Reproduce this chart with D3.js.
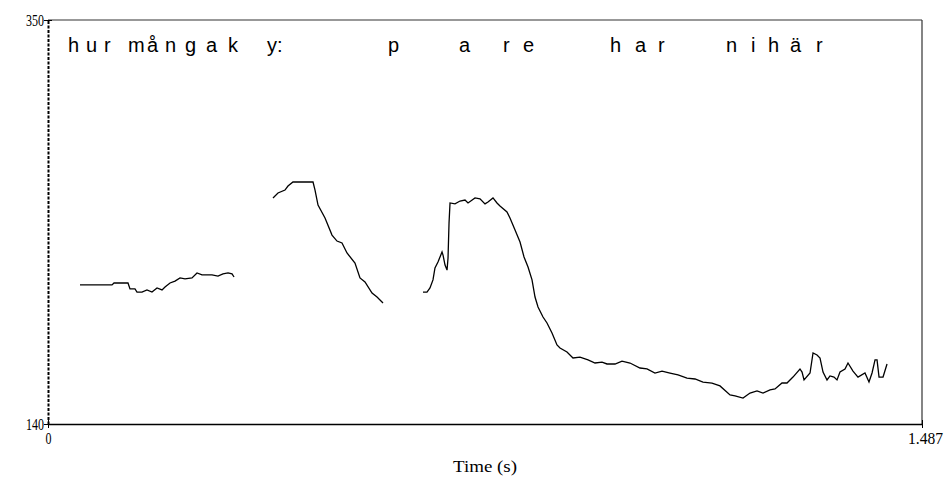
<!DOCTYPE html>
<html>

<head>
  <meta charset="utf-8">
  <title>Pitch contour</title>
  <script src="https://cdn.jsdelivr.net/npm/d3@7"></script>
  <style>
    body {
      margin: 0;
      background: #fff;
    }

    .tick text,
    .axis-title {
      font-family: "Liberation Serif", "DejaVu Serif", serif;
      fill: #000;
    }

    .seg-label {
      font-family: "Liberation Sans", Arial, sans-serif;
      font-size: 20px;
      fill: #000;
    }

    .contour {
      fill: none;
      stroke: #000;
      stroke-width: 1.3;
    }
  </style>
</head>

<body>
  <svg id="chart" width="946" height="477"></svg>

  <script>
    // pitch contour, [time (s), F0 (Hz)], three voiced stretches
    var segment1 = [
      [0.0544, 212.3], [0.1089, 212.3], [0.1123, 213.3], [0.1361, 213.3], [0.1395, 210.2],
      [0.1480, 210.2], [0.1514, 208.6], [0.1599, 208.6], [0.1684, 209.7], [0.1769, 208.6],
      [0.1855, 210.7], [0.1940, 209.7], [0.1991, 211.2], [0.2076, 213.3], [0.2161, 214.3],
      [0.2246, 215.9], [0.2331, 215.4], [0.2450, 215.9], [0.2535, 218.5], [0.2620, 217.5],
      [0.2790, 217.5], [0.2892, 216.9], [0.2977, 218.0], [0.3063, 218.5], [0.3131, 218.0],
      [0.3165, 216.4]
    ];

    var segment2 = [
      [0.3828, 257.5], [0.3913, 260.1], [0.4032, 261.6], [0.4083, 263.7], [0.4168, 265.8],
      [0.4509, 265.8], [0.4543, 261.6], [0.4594, 253.8], [0.4713, 247.1], [0.4832, 238.2],
      [0.4917, 235.1], [0.5002, 234.1], [0.5087, 228.9], [0.5223, 223.7], [0.5308, 215.9],
      [0.5393, 213.8], [0.5513, 208.1], [0.5598, 206.0], [0.5683, 203.4], [0.5700, 202.9]
    ];

    var segment3 = [
      [0.6380, 208.6], [0.6448, 208.6], [0.6499, 210.7], [0.6550, 214.9], [0.6584, 221.1],
      [0.6635, 224.2], [0.6704, 229.4], [0.6721, 227.8], [0.6755, 222.6], [0.6789, 220.0],
      [0.6806, 226.3], [0.6823, 244.5], [0.6840, 254.9], [0.6925, 254.4], [0.7010, 255.9],
      [0.7095, 256.4], [0.7146, 254.9], [0.7265, 257.5], [0.7350, 257.0], [0.7435, 254.4],
      [0.7486, 255.4], [0.7571, 257.5], [0.7639, 254.9], [0.7690, 253.3], [0.7809, 250.2],
      [0.7860, 247.1], [0.7946, 240.8], [0.8031, 234.6], [0.8099, 226.8], [0.8167, 221.6],
      [0.8235, 214.9], [0.8286, 206.0], [0.8337, 200.8], [0.8422, 195.6], [0.8490, 192.5],
      [0.8575, 187.3], [0.8660, 181.1], [0.8711, 179.5], [0.8830, 177.4], [0.8932, 174.3],
      [0.9051, 174.8], [0.9188, 173.3], [0.9307, 171.7], [0.9426, 172.2], [0.9511, 171.2],
      [0.9647, 171.2], [0.9766, 172.7], [0.9902, 171.7], [1.0072, 169.1], [1.0191, 168.6],
      [1.0327, 166.5], [1.0447, 167.5], [1.0583, 166.5], [1.0719, 165.5], [1.0872, 163.9],
      [1.1008, 163.4], [1.1144, 161.8], [1.1297, 161.3], [1.1433, 159.8], [1.1604, 155.1],
      [1.1689, 154.6], [1.1825, 153.5], [1.1944, 156.1], [1.2063, 157.2], [1.2165, 156.1],
      [1.2284, 157.7], [1.2369, 158.2], [1.2488, 161.3], [1.2573, 161.3], [1.2675, 164.4],
      [1.2794, 168.6], [1.2829, 167.0], [1.2863, 162.9], [1.2965, 166.5], [1.3016, 176.9],
      [1.3084, 175.9], [1.3135, 174.3], [1.3186, 167.0], [1.3254, 162.9], [1.3305, 165.0],
      [1.3373, 164.4], [1.3424, 162.9], [1.3475, 167.0], [1.3560, 168.6], [1.3611, 171.7],
      [1.3696, 167.5], [1.3781, 164.4], [1.3900, 166.5], [1.3968, 161.8], [1.4020, 166.5],
      [1.4071, 173.3], [1.4105, 173.3], [1.4139, 164.4], [1.4207, 164.4], [1.4275, 171.2]
    ];

    // transcription tier, each letter at its start time
    var letters = ['h', 'u', 'r', 'm', 'å', 'n', 'g', 'a', 'k', 'y:', 'p', 'a', 'r', 'e',
      'h', 'a', 'r', 'n', 'i', 'h', 'ä', 'r'];
    var letterTimes = [0.0340, 0.0647, 0.0953, 0.1361, 0.1684, 0.1991, 0.2331, 0.2688, 0.3063,
      0.3726, 0.5785, 0.6993, 0.7741, 0.8082, 0.9562, 0.9987, 1.0379, 1.1536, 1.1961,
      1.2250, 1.2624, 1.3067];

    var timeTicks = [0, 1.487];
    var hzTicks = [140, 350];

    var svg = d3.select('#chart'),
      margin = { top: 20, right: 24, bottom: 53, left: 48 },
      width = +svg.attr('width') - margin.left - margin.right,
      height = +svg.attr('height') - margin.top - margin.bottom,
      g = svg.append('g')
        .attr('transform', 'translate(' + margin.left + ',' + margin.top + ')');

    var x = d3.scaleLinear().domain([0, 1.487]).range([0, width]);
    var y = d3.scaleLinear().domain([140, 350]).range([height, 0]);

    // frame: top and right plain, left dashed
    g.append('line')
      .attr('x1', 0).attr('x2', width).attr('y1', 0).attr('y2', 0)
      .attr('stroke', '#333').attr('stroke-width', 1.2);
    g.append('line')
      .attr('x1', width).attr('x2', width).attr('y1', 0).attr('y2', height)
      .attr('stroke', '#333').attr('stroke-width', 1.2);

    var yAxis = g.append('g')
      .call(d3.axisLeft(y).tickValues(hzTicks).tickSize(4).tickSizeOuter(0).tickFormat(d3.format('d')));
    yAxis.select('.domain')
      .attr('stroke-dasharray', '3,1.5')
      .attr('stroke-width', 2);
    yAxis.selectAll('.tick line').attr('x2', 4).attr('x1', -4);
    yAxis.selectAll('.tick text')
      .attr('x', -4)
      .attr('font-size', 16)
      .attr('textLength', 18)
      .attr('lengthAdjust', 'spacingAndGlyphs');

    var xAxis = g.append('g')
      .attr('transform', 'translate(0,' + height + ')')
      .call(d3.axisBottom(x).tickValues(timeTicks).tickSize(4).tickSizeOuter(0)
        .tickFormat(d => d === 0 ? '0' : d3.format('.3f')(d)));
    xAxis.select('.domain').attr('stroke-width', 1.5);
    xAxis.selectAll('.tick line').attr('y1', -4).attr('y2', 4);
    xAxis.selectAll('.tick text')
      .attr('y', 9)
      .attr('dx', d => d === 0 ? 0 : 3)
      .attr('font-size', 16)
      .attr('textLength', d => d === 0 ? 6 : 35)
      .attr('lengthAdjust', 'spacingAndGlyphs');

    g.append('text')
      .attr('class', 'axis-title')
      .attr('x', width / 2)
      .attr('y', height + 48)
      .attr('text-anchor', 'middle')
      .attr('font-size', 17)
      .attr('textLength', 64)
      .attr('lengthAdjust', 'spacingAndGlyphs')
      .text('Time (s)');

    // transcription letters
    g.selectAll('.seg-label')
      .data(letters)
      .enter()
      .append('text')
      .attr('class', 'seg-label')
      .attr('x', (d, i) => x(letterTimes[i]))
      .attr('y', 32)
      .text(d => d);

    var line = d3.line()
      .x(d => x(d[0]))
      .y(d => y(d[1]));

    g.selectAll('.contour')
      .data([segment1, segment2, segment3])
      .enter()
      .append('path')
      .attr('class', 'contour')
      .attr('d', line);
  </script>
</body>

</html>
